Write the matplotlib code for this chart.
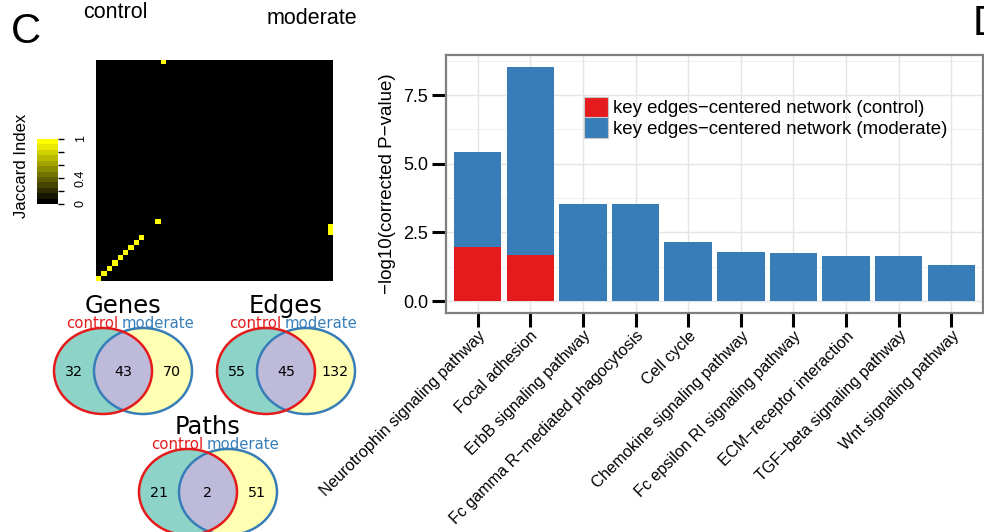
import matplotlib
matplotlib.use("Agg")
import matplotlib.pyplot as plt
import numpy as np
from matplotlib.patches import Ellipse, Patch
from matplotlib.colors import LinearSegmentedColormap

W, H = 984, 532

# enriched pathways (panel D)
pathways = ["Neurotrophin signaling pathway", "Focal adhesion", "ErbB signaling pathway",
            "Fc gamma R\u2212mediated phagocytosis", "Cell cycle",
            "Chemokine signaling pathway", "Fc epsilon RI signaling pathway",
            "ECM\u2212receptor interaction", "TGF\u2212beta signaling pathway",
            "Wnt signaling pathway"]
moderate_vals = [5.44, 8.53, 3.52, 3.52, 2.15, 1.80, 1.76, 1.65, 1.65, 1.33]
control_vals = [1.99, 1.69, 0, 0, 0, 0, 0, 0, 0, 0]
legend_labels = ["key edges\u2212centered network (control)",
                 "key edges\u2212centered network (moderate)"]
y_ticks = [0.0, 2.5, 5.0, 7.5]
y_minor = [1.25, 3.75, 6.25, 8.75]

# venn counts: only control, shared, only moderate
venn_titles = ["Genes", "Edges", "Paths"]
venn_counts = [(32, 43, 70), (55, 45, 132), (21, 2, 51)]

# jaccard heatmap: cells with index 1, (row from bottom, col)
n_rows, n_cols = 43, 44
hit_cells = [(0, 0), (1, 1), (2, 2), (3, 3), (4, 4), (5, 5), (6, 6), (7, 7), (8, 8),
             (11, 11), (42, 12), (9, 43), (10, 43)]
cbar_ticks = [0, 0.2, 0.4, 0.6, 0.8, 1]
cbar_labels = ["0", "", "0.4", "", "", "1"]

RED = "#E41A1C"
BLUE = "#377EB8"
SANS = "Liberation Sans"


def fx(px):
    return px / W


def fy(py):
    return 1 - py / H


plt.rcParams['font.family'] = [SANS, 'DejaVu Sans']
fig = plt.figure(figsize=(W / 100, H / 100), dpi=100)

# ---- heatmap
blk_yel = LinearSegmentedColormap.from_list("by", ["#000000", "#FFFF00"])
mat = np.zeros((n_rows, n_cols))
for r, c in hit_cells:
    mat[r, c] = 1
ax_h = fig.add_axes([fx(96), fy(281), 237 / W, 221 / H])
ax_h.imshow(mat, cmap=blk_yel, origin="lower", aspect="auto",
            interpolation="nearest", vmin=0, vmax=1)
ax_h.axis("off")

# colour key
ax_c = fig.add_axes([fx(37), fy(204), 21 / W, 65 / H])
grad = np.linspace(0, 1, 12).reshape(-1, 1)
ax_c.imshow(grad, cmap=blk_yel, origin="lower", aspect="auto",
            extent=(0, 1, 0, 1), interpolation="nearest")
for s in ax_c.spines.values():
    s.set_visible(False)
ax_c.set_xticks([])
ax_c.set_yticks(cbar_ticks)
ax_c.set_yticklabels(cbar_labels, rotation=90, va="center", fontsize=9)
ax_c.tick_params(axis="y", left=False, right=True, labelleft=False, labelright=True,
                 length=4, width=1, pad=8)
fig.text(fx(22), fy(166), "Jaccard Index", rotation=90, ha="center", va="center",
         fontsize=12)

fig.text(fx(83), fy(13), "control", ha="left", va="center", fontsize=15.5)
fig.text(fx(267), fy(18), "moderate", ha="left", va="center", fontsize=15.5)
fig.text(fx(11), fy(32), "C", ha="left", va="center", fontsize=30)
fig.text(fx(973), fy(24), "D", ha="left", va="center", fontsize=30)

# ---- venn diagrams
ax_v = fig.add_axes([0, fy(532), 380 / W, 247 / H])
ax_v.set_xlim(0, 380)
ax_v.set_ylim(532, 285)
ax_v.axis("off")
venn_centres = [(123, 371), (286, 371), (208, 492)]
half_sep, ew, eh = 20, 98, 86
for title, counts, (cx, cy) in zip(venn_titles, venn_counts, venn_centres):
    left = Ellipse((cx - half_sep, cy), ew, eh, facecolor="#8DD3C7", edgecolor="none")
    right = Ellipse((cx + half_sep, cy), ew, eh, facecolor="#FFFFB3", edgecolor="none")
    ax_v.add_patch(left)
    ax_v.add_patch(right)
    mid = Ellipse((cx - half_sep, cy), ew, eh, facecolor="#BEBADA", edgecolor="none")
    ax_v.add_patch(mid)
    mid.set_clip_path(right)
    ax_v.add_patch(Ellipse((cx + half_sep, cy), ew, eh, facecolor="none",
                           edgecolor=BLUE, lw=1.8))
    ax_v.add_patch(Ellipse((cx - half_sep, cy), ew, eh, facecolor="none",
                           edgecolor=RED, lw=1.8))
    top = cy - eh / 2
    ax_v.text(cx, top - 15, title, ha="center", va="baseline", fontsize=17.5,
              family="DejaVu Sans")
    ax_v.text(cx - 5, top, "control", ha="right", va="baseline", fontsize=10.7,
              color=RED, family="DejaVu Sans")
    ax_v.text(cx - 1, top, "moderate", ha="left", va="baseline", fontsize=10.7,
              color=BLUE, family="DejaVu Sans")
    for dx, n in zip((-49, 0, 49), counts):
        ax_v.text(cx + dx, cy + 1, str(n), ha="center", va="center", fontsize=10.3,
                  family="DejaVu Sans")

# ---- bar chart
ax = fig.add_axes([fx(446), fy(313), (983 - 446) / W, (313 - 55) / H])
x = np.arange(1, len(pathways) + 1)
ax.bar(x, moderate_vals, width=0.9, color=BLUE, zorder=2)
ax.bar(x, control_vals, width=0.9, color=RED, zorder=3)
ax.set_xlim(0.4, len(pathways) + 0.6)
ax.set_ylim(-0.43, 8.96)
for v in y_minor:
    ax.axhline(v, color="#F2F2F2", lw=0.8, zorder=0)
for v in y_ticks:
    ax.axhline(v, color="#E5E5E5", lw=1.0, zorder=0.5)
for v in x:
    ax.axvline(v, color="#E5E5E5", lw=1.0, zorder=0.5)
ax.set_yticks(y_ticks)
ax.set_yticklabels(["%.1f" % v for v in y_ticks])
ax.set_xticks(x)
ax.set_xticklabels(pathways, rotation=45, ha="right", rotation_mode="anchor")
ax.tick_params(axis="both", length=10, width=2.2, color="black", labelsize=13)
ax.tick_params(axis="x", labelsize=11.6, pad=1)
ax.tick_params(axis="y", pad=3)
for s in ax.spines.values():
    s.set_color("#7F7F7F")
    s.set_linewidth(1.6)
ax.set_ylabel("\u2212log10(corrected P\u2212value)", fontsize=13.5, labelpad=5)

handles = [Patch(facecolor=RED, edgecolor="#C8C8C8", lw=0.8),
           Patch(facecolor=BLUE, edgecolor="#C8C8C8", lw=0.8)]
ax.legend(handles, legend_labels, loc="upper left",
          bbox_to_anchor=(fx(584), fy(97)), bbox_transform=fig.transFigure,
          frameon=False, fontsize=13.4, handlelength=1.3, handleheight=1.3,
          labelspacing=0, handletextpad=0.25, borderpad=0, borderaxespad=0)

fig.savefig("out.png", dpi=100)
